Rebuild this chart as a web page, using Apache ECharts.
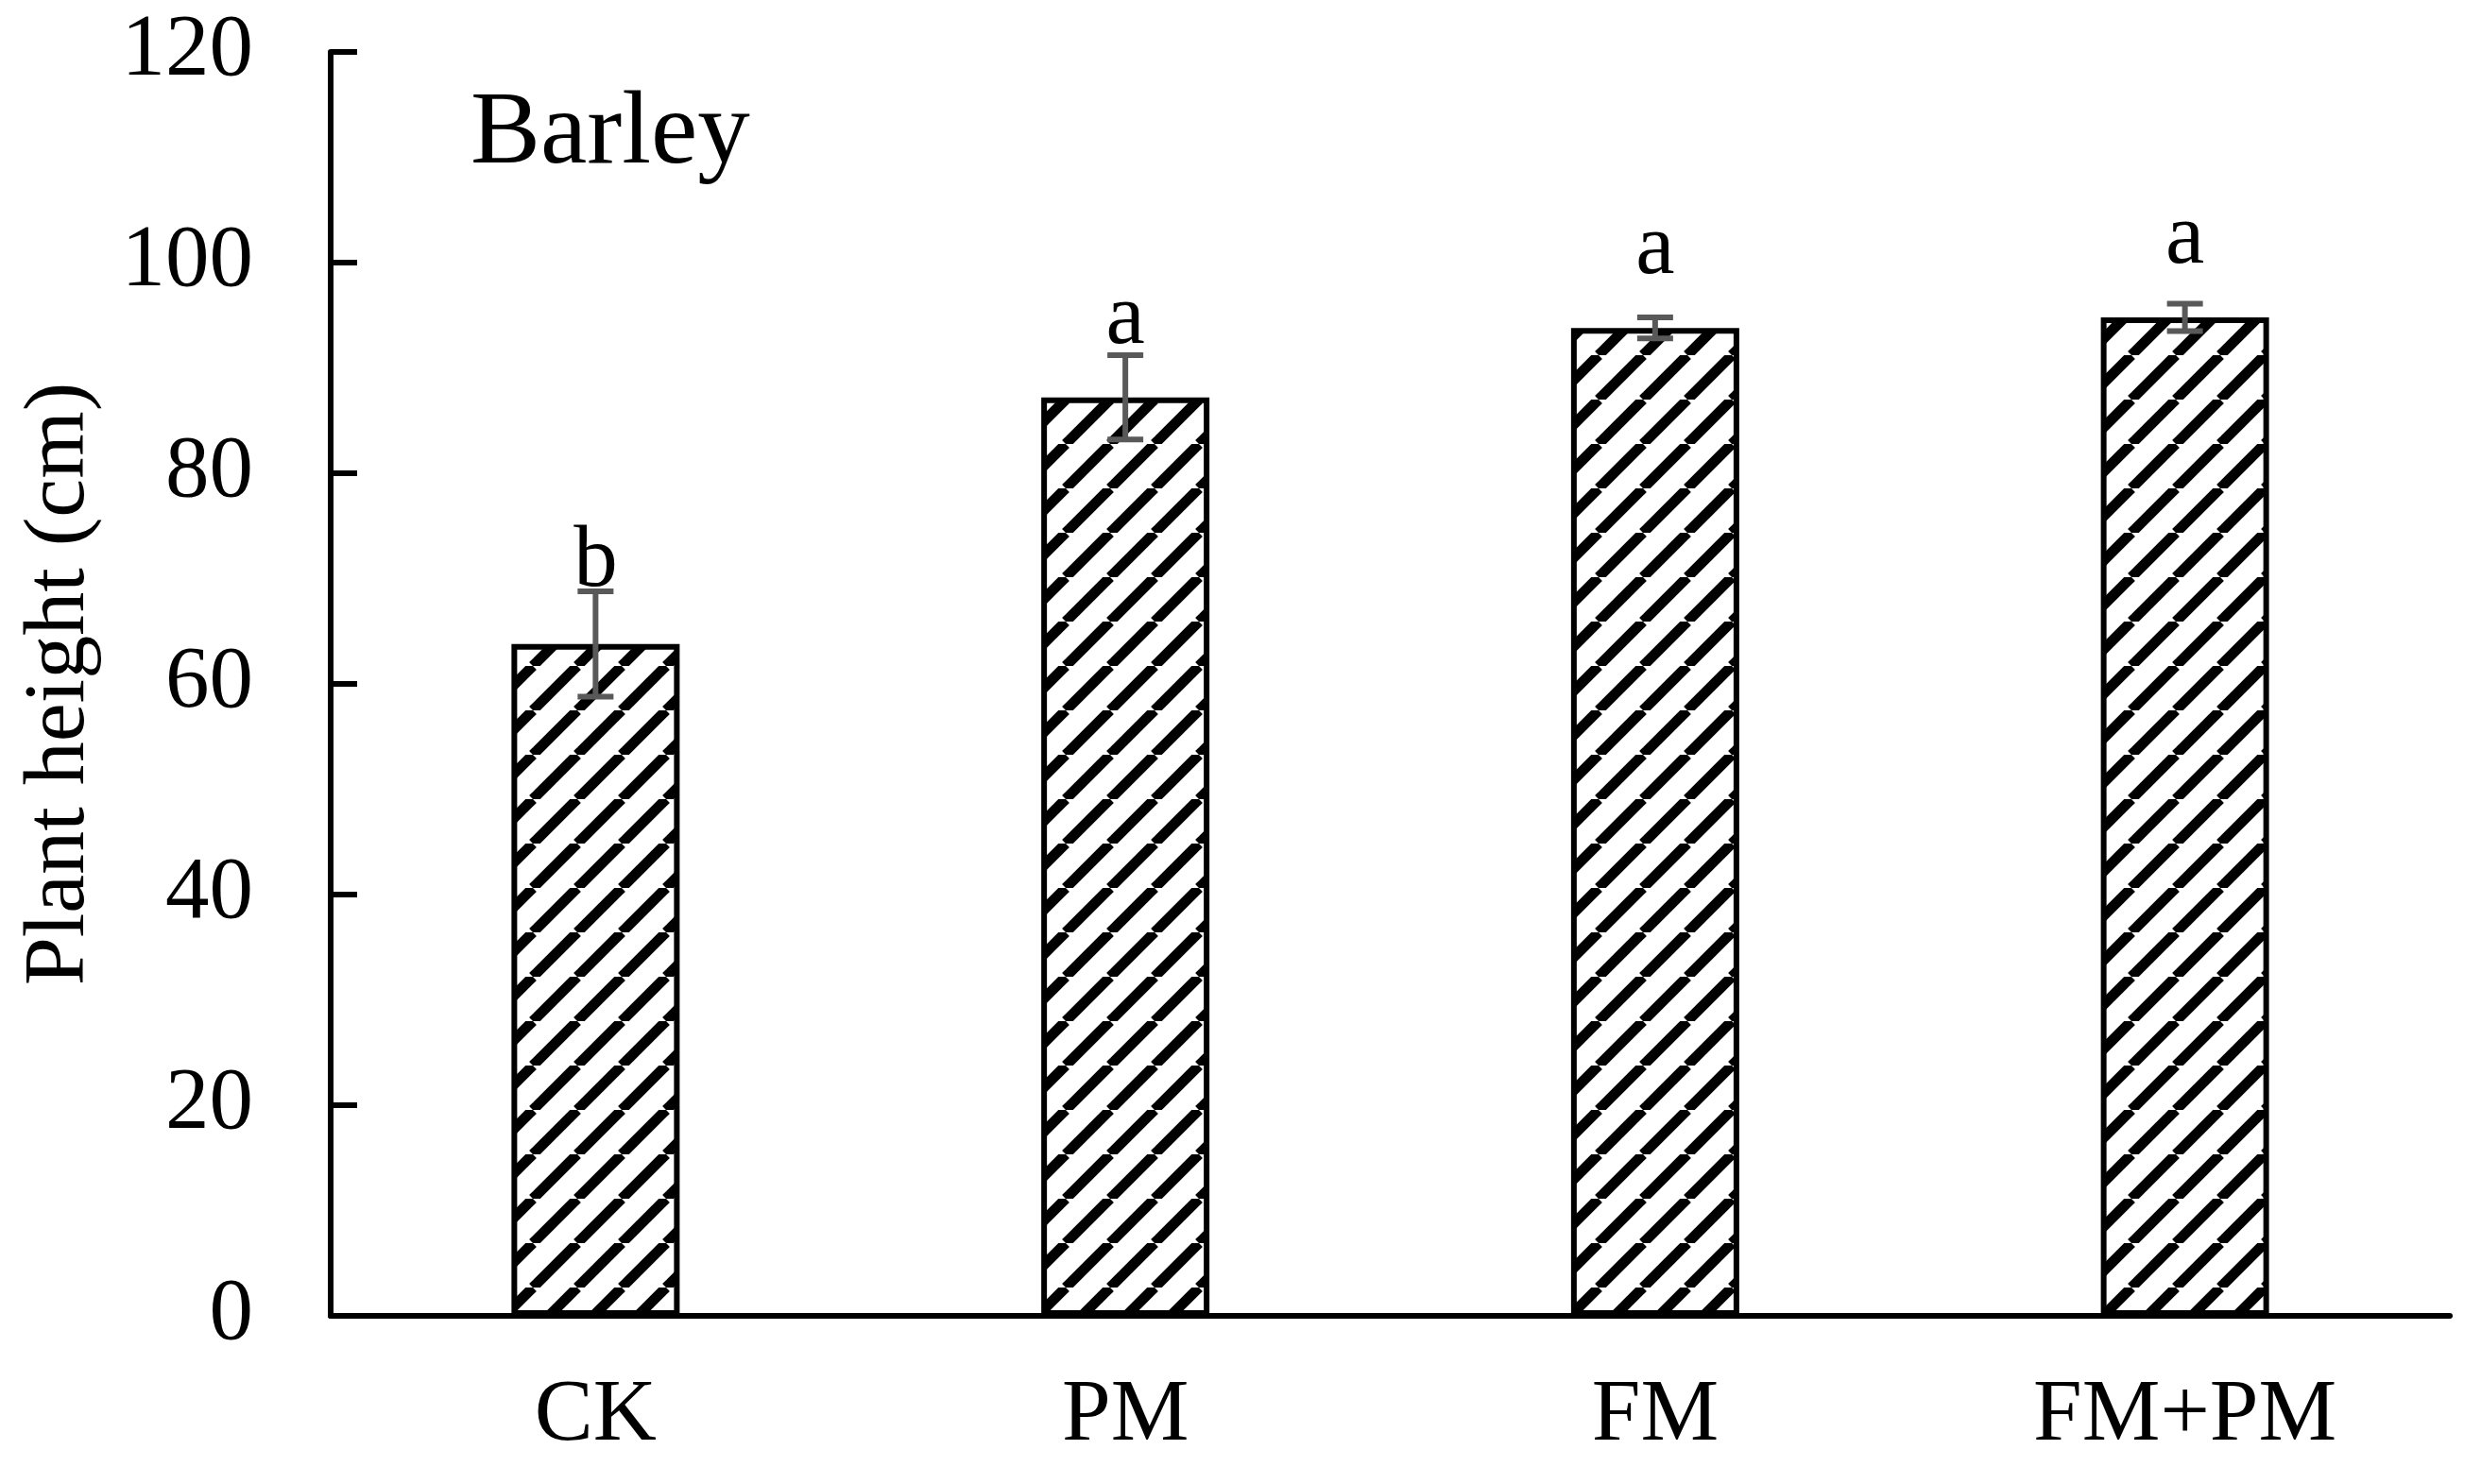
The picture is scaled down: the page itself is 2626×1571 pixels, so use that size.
<!DOCTYPE html>
<html>
<head>
<meta charset="utf-8">
<script src="https://cdn.jsdelivr.net/npm/echarts@6/dist/echarts.min.js"></script>
<style>
  html, body { margin: 0; padding: 0; background: #ffffff; }
  #chart { width: 2626px; height: 1571px; }
</style>
</head>
<body>
<div id="chart"></div>
<script>
// ---- data ----
const categories = ['CK', 'PM', 'FM', 'FM+PM'];
const heights = [63.8, 87.2, 93.8, 94.8];
const errors = [5.0, 4.0, 1.0, 1.3];
const letters = ['b', 'a', 'a', 'a'];
const yTicks = { min: 0, max: 120, interval: 20 };
const panelLabel = 'Barley';
const yTitle = 'Plant height (cm)';

// ---- hatch pattern ----
function makeHatch() {
  const P = 47;
  const c = document.createElement('canvas');
  c.width = P; c.height = P;
  const ctx = c.getContext('2d');
  ctx.fillStyle = '#ffffff';
  ctx.fillRect(0, 0, P, P);
  ctx.strokeStyle = '#000000';
  ctx.lineWidth = 11;
  for (let k = -1; k <= 1; k++) {
    ctx.beginPath();
    ctx.moveTo(k * P, P);
    ctx.lineTo(k * P + P, 0);
    ctx.stroke();
  }
  return c;
}

const FONT = '"Liberation Serif", "Times New Roman", serif';
const chart = echarts.init(document.getElementById('chart'), null, { renderer: 'canvas' });

const option = {
  animation: false,
  backgroundColor: '#ffffff',
  title: {
    text: panelLabel,
    left: 493,
    top: 82,
    textStyle: { fontFamily: FONT, fontSize: 111, fontWeight: 'normal', color: '#000' }
  },
  grid: { left: 350, right: 33, top: 55, bottom: 178, containLabel: false },
  xAxis: {
    type: 'category',
    data: categories,
    axisLine: { lineStyle: { color: '#000', width: 6 } },
    axisTick: { show: false },
    axisLabel: { fontFamily: FONT, fontSize: 93, color: '#000', margin: 60 },
    splitLine: { show: false }
  },
  yAxis: {
    type: 'value',
    min: yTicks.min,
    max: yTicks.max,
    interval: yTicks.interval,
    name: yTitle,
    nameLocation: 'middle',
    nameGap: 240,
    nameTextStyle: { fontFamily: FONT, fontSize: 92, color: '#000' },
    axisLine: { show: true, lineStyle: { color: '#000', width: 6 } },
    axisTick: { show: true, inside: true, length: 28, lineStyle: { color: '#000', width: 6 } },
    axisLabel: { fontFamily: FONT, fontSize: 93, color: '#000', margin: 82 },
    splitLine: { show: false }
  },
  series: [
    {
      type: 'bar',
      data: heights,
      barWidth: 178,
      itemStyle: {
        color: { image: makeHatch(), repeat: 'repeat' },
        borderColor: '#000',
        borderWidth: 6
      },
      z: 2
    },
    {
      type: 'custom',
      data: heights.map((h, i) => [i, h, errors[i]]),
      z: 5,
      renderItem: function (params, api) {
        const i = api.value(0);
        const m = api.value(1);
        const e = api.value(2);
        const top = api.coord([i, m + e]);
        const bot = api.coord([i, m - e]);
        const mid = api.coord([i, m]);
        const hw = 19;
        const st = { stroke: '#595959', lineWidth: 6 };
        const baseline = Math.min(mid[1] - 56, top[1] - 4);
        return {
          type: 'group',
          children: [
            { type: 'line', shape: { x1: top[0], y1: top[1], x2: bot[0], y2: bot[1] }, style: st },
            { type: 'line', shape: { x1: top[0] - hw, y1: top[1], x2: top[0] + hw, y2: top[1] }, style: st },
            { type: 'line', shape: { x1: bot[0] - hw, y1: bot[1], x2: bot[0] + hw, y2: bot[1] }, style: st },
            {
              type: 'text',
              x: mid[0],
              y: baseline + 20,
              style: {
                text: letters[params.dataIndex],
                font: '93px ' + FONT,
                fill: '#000',
                align: 'center',
                verticalAlign: 'bottom'
              }
            }
          ]
        };
      }
    }
  ]
};
chart.setOption(option);
</script>
</body>
</html>
